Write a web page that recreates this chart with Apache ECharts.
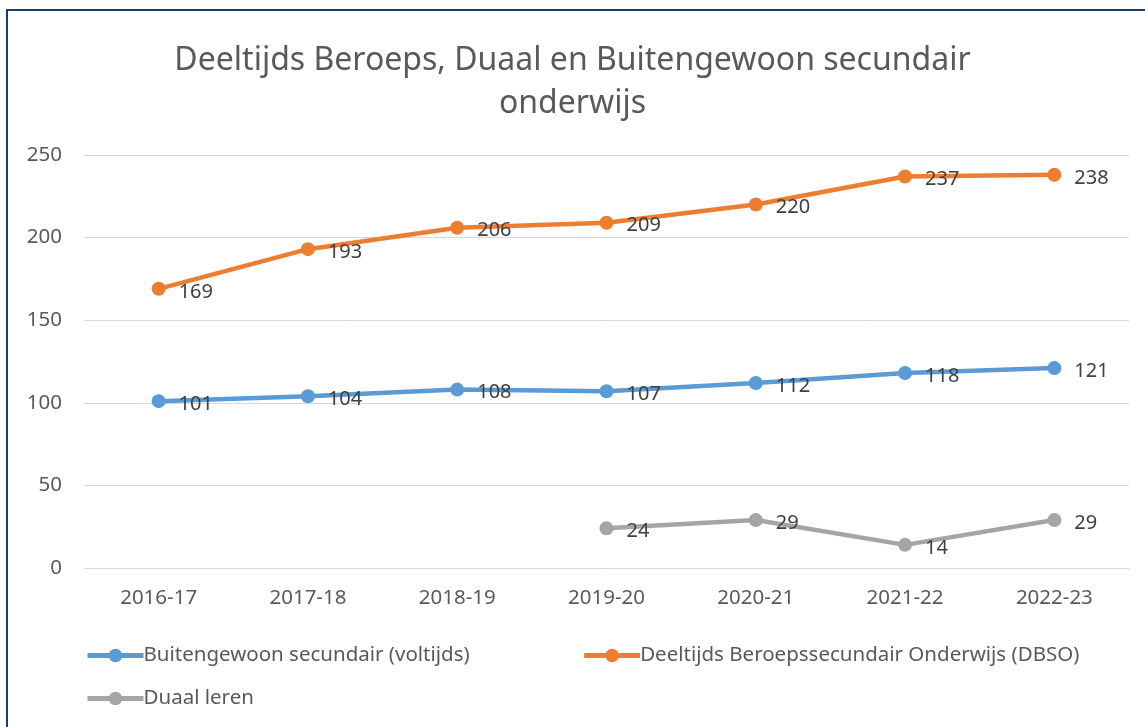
<!DOCTYPE html>
<html>
<head>
	<meta charset="utf-8" />
	<title>Deeltijds Beroeps, Duaal en Buitengewoon secundair onderwijs</title>
	<script src="https://cdn.jsdelivr.net/npm/echarts@6/dist/echarts.min.js"></script>
	<style>
		html, body { margin: 0; padding: 0; background: #fff; }
	</style>
</head>
<body>
	<!-- chart container -->
	<div id="main" style="width: 1145px;height: 727px;"></div>
	<script type="text/javascript">

		// data
		var years = ["2016-17", "2017-18", "2018-19", "2019-20", "2020-21", "2021-22", "2022-23"];
		var buitengewoon = [101, 104, 108, 107, 112, 118, 121];
		var dbso = [169, 193, 206, 209, 220, 237, 238];
		var duaal = [null, null, null, 24, 29, 14, 29];
		var seriesNames = ["Buitengewoon secundair (voltijds)", "Deeltijds Beroepssecundair Onderwijs (DBSO)", "Duaal leren"];

		var font = "Noto Sans";
		var grey = "#595959";

		var myChart = echarts.init(document.getElementById("main"));

		function lineSeries(name, data, color) {
			return {
				name: name,
				type: "line",
				data: data,
				color: color,
				symbol: "circle",
				symbolSize: 14,
				lineStyle: { width: 4.5, color: color },
				itemStyle: { color: color },
				label: {
					show: true,
					position: "right",
					distance: 13,
					offset: [0, 3],
					color: "#404040",
					fontFamily: font,
					fontSize: 20
				},
				emphasis: { disabled: true },
				animation: false
			};
		}

		var legendText = { fontFamily: font, fontSize: 20.5, color: grey, padding: [0, 0, 0, -5] };

		var option = {
			textStyle: { fontFamily: font },
			title: {
				text: "Deeltijds Beroeps, Duaal en Buitengewoon secundair\nonderwijs",
				left: "center",
				top: 34,
				textStyle: {
					fontFamily: font,
					fontSize: 32,
					fontWeight: "normal",
					color: grey,
					lineHeight: 43
				}
			},
			graphic: [{
				type: "rect",
				shape: { x: 7, y: 10, width: 1200, height: 800 },
				style: { fill: "none", stroke: "#1f3a73", lineWidth: 2 }
			}],
			legend: [{
				data: [seriesNames[0], seriesNames[1]],
				left: 80,
				top: 640,
				itemWidth: 56,
				itemHeight: 17,
				itemGap: 112,
				lineStyle: { width: 5 },
				textStyle: legendText
			}, {
				data: [seriesNames[2]],
				left: 80,
				top: 683,
				itemWidth: 56,
				itemHeight: 17,
				lineStyle: { width: 5 },
				textStyle: legendText
			}],
			grid: {
				left: 84,
				right: 16,
				top: 155,
				bottom: 159
			},
			xAxis: {
				type: "category",
				data: years,
				boundaryGap: true,
				axisLine: { lineStyle: { color: "#d9d9d9", width: 1 } },
				axisTick: { show: false },
				axisLabel: { color: grey, fontFamily: font, fontSize: 20.5, margin: 20 }
			},
			yAxis: {
				type: "value",
				min: 0,
				max: 250,
				interval: 50,
				axisLine: { show: false },
				axisTick: { show: false },
				splitLine: { lineStyle: { color: "#d9d9d9", width: 1 } },
				axisLabel: { color: grey, fontFamily: font, fontSize: 20.5, margin: 22 }
			},
			series: [
				lineSeries(seriesNames[0], buitengewoon, "#5B9BD5"),
				lineSeries(seriesNames[1], dbso, "#ED7D31"),
				lineSeries(seriesNames[2], duaal, "#A5A5A5")
			]
		};

		myChart.setOption(option);

	</script>
</body>
</html>
